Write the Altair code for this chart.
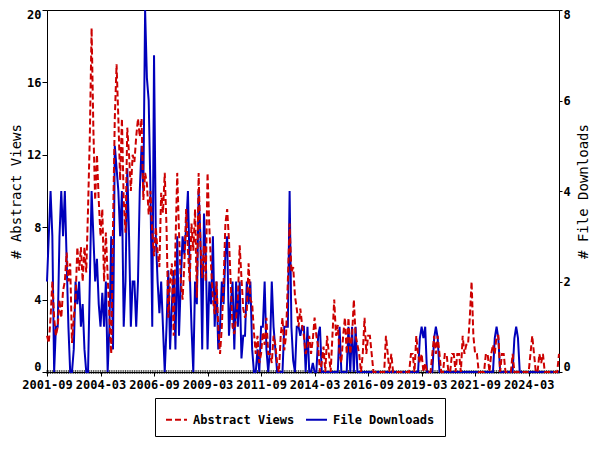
import altair as alt
import pandas as pd

# Monthly series starting 2001-09
views = [
    2, 1.6, 3, 5, 3, 2, 2.5, 4, 3, 4.5, 5, 6.6,
    5, 6, 1.6, 3, 4, 6.9, 5.6, 6.9, 5, 6.9, 5.5, 9,
    13, 19, 13.4, 9.5, 12, 9.5, 7.5, 9, 5, 7.7, 5.3, 3,
    1, 8, 14, 17, 14, 10.6, 14, 9.5, 7.7, 13.5, 12, 10,
    12, 11.6, 13, 14, 13, 14, 9.5, 11, 10.4, 8.7, 10, 7.7,
    6.4, 8, 6.6, 5.8, 9.9, 8.8, 11, 8, 3, 5, 6, 2,
    7, 11, 7.7, 5, 4, 6, 9, 6.7, 5, 8.2, 6.7, 9,
    4.1, 11, 7, 5.2, 7, 5, 11, 8, 5.8, 4, 3.2, 5,
    2.5, 1, 2.5, 5, 8.2, 9, 7.3, 4.9, 2.5, 2.1, 3, 4,
    7, 5.2, 3.5, 3, 3.4, 6, 4, 3.8, 2.2, 1, 2, 0.5,
    1, 2.2, 1.5, 3, 1, 1, 0.5, 2, 1.5, 0.5, 0, 2,
    3, 1.2, 2, 5, 8.2, 5.5, 5.8, 4.2, 3.5, 2.5, 3.5, 2.6,
    2, 1, 1.4, 2, 1, 1.8, 3, 2, 1.4, 0, 0.5, 1.4,
    0, 2, 1, 0, 2, 4, 2, 2.6, 1, 0.5, 2, 3,
    1, 3, 1, 2, 4, 2, 1.5, 1, 0, 1, 3, 1,
    2, 2, 1, 0, 0, 0, 0, 0, 0, 0, 2, 1,
    0, 1, 0, 0, 0, 0, 0, 0, 0, 0, 0, 0,
    1, 1, 0, 2, 1, 0.5, 1, 0, 0.5, 0, 0, 0,
    1, 2, 1, 2, 1, 0, 0, 1, 1, 0, 0, 1,
    1, 0, 1, 1, 0, 2, 1, 1.5, 1.5, 3, 5, 2,
    1, 1, 0, 0, 0, 0, 1, 1, 0, 1, 1.5, 1,
    2, 2, 0, 1, 1, 0, 0, 0, 0, 1, 0, 0,
    0, 0, 0, 0, 0, 0, 0, 1, 2, 1, 0, 0,
    1, 0.5, 1, 0, 0, 0, 0, 0, 0, 0, 0, 1,
]

downloads = [
    2, 3, 4, 3, 0, 1, 1, 3, 4, 3, 4, 2.5,
    1, 0, 0, 0.5, 2, 1.5, 2, 1, 1.5, 0.5, 0, 0,
    2, 4, 3, 2, 2.5, 1.5, 1, 1.75, 1, 2, 0, 1,
    3, 0.5, 5, 4.5, 4, 3, 4, 1, 2, 4.5, 3, 1,
    2, 2, 1, 2, 4, 5, 4, 8, 6.5, 6, 4, 1,
    7, 3, 2, 1.3, 2, 1, 0, 1, 2.25, 0.5, 1.5, 2.25,
    0.5, 3, 0.8, 2, 3, 2.6, 3.2, 4, 2.25, 1, 0, 2,
    1.5, 4, 3, 0.5, 3.5, 2.6, 0.5, 2, 1.5, 3, 1, 2,
    0.5, 1, 2, 1.5, 2.6, 3, 0.8, 1.5, 2, 0.5, 2, 1,
    2, 0.3, 0.8, 0.8, 2, 1.5, 2, 0.5, 0, 0, 0.5, 0,
    1, 1, 2, 0.5, 0, 0.5, 2, 1, 0.5, 0, 0, 0,
    0, 1, 1, 1, 4, 1, 0.25, 0, 1, 1, 0.8, 1,
    1, 0, 1, 0, 0, 0.2, 0, 0, 0.8, 1, 0, 0,
    0, 0, 0, 0, 0, 0, 0, 0, 1, 0, 0, 0,
    0, 1, 0, 1, 0, 1, 0, 0, 0, 0, 0, 0,
    0, 0, 0, 0, 0, 0, 0, 0, 0, 0, 0, 0,
    0, 0, 0, 0, 0, 0, 0, 0, 0, 0, 0, 0,
    0, 0, 0, 0, 0, 0.75, 1, 0.75, 1, 0, 0, 0,
    0, 0.75, 1, 0.75, 0, 0, 0, 0, 0, 0, 0, 0,
    0, 0, 0, 0, 0, 0, 0, 0, 0, 0, 0, 0,
    0, 0, 0, 0, 0, 0, 0, 0, 0, 0, 0, 0.75,
    1, 0.75, 0, 0, 0, 0, 0, 0, 0, 0, 0.75, 1,
    0.75, 0, 0, 0, 0, 0, 0, 0, 0, 0, 0, 0,
    0, 0, 0, 0, 0, 0, 0, 0, 0, 0, 0, 0,
]

tick_labels = ["2001-09", "2004-03", "2006-09", "2009-03", "2011-09",
               "2014-03", "2016-09", "2019-03", "2021-09", "2024-03"]
series_names = ["Abstract Views", "File Downloads"]
left_ticks = [0, 4, 8, 12, 16, 20]
right_ticks = [0, 2, 4, 6, 8]

n = len(views)
months = list(range(n))
month_labels = [f"{2001 + (8 + i) // 12}-{(8 + i) % 12 + 1:02d}" for i in months]
tick_pos = [month_labels.index(t) for t in tick_labels]

df = pd.DataFrame({
    "m": months * 2,
    "label": month_labels * 2,
    "series": [series_names[0]] * n + [series_names[1]] * n,
    "value": views + downloads,
})
ticks_df = pd.DataFrame({"m": months})

label_expr = ("[" + ",".join(f"'{t}'" for t in tick_labels) + "][indexof(["
              + ",".join(str(p) for p in tick_pos) + "], datum.value)]")

x_enc = alt.X("m:Q",
              scale=alt.Scale(domain=[0, n - 1], nice=False, zero=False),
              axis=alt.Axis(values=tick_pos, labelExpr=label_expr, title=None,
                            tickSize=4, labelPadding=3, labelOverlap=False,
                            labelFlush=False))

legend = alt.Legend(title=None, orient="none", legendX=108, legendY=388,
                    direction="horizontal", symbolType="stroke",
                    symbolSize=441, symbolStrokeWidth=2, columnPadding=7,
                    labelOffset=5, padding=10, strokeColor="black",
                    labelFont="DejaVu Sans Mono", labelFontWeight="bold",
                    labelFontSize=12, labelColor="black")

color_enc = alt.Color("series:N",
                      scale=alt.Scale(domain=series_names, range=["#cc0000", "#0000bb"]),
                      legend=legend)
dash_enc = alt.StrokeDash("series:N",
                          scale=alt.Scale(domain=series_names, range=[[6, 3], [1, 0]]),
                          legend=legend)

minor = alt.Chart(ticks_df).mark_tick(orient="vertical", size=4, thickness=1,
                                      color="black").encode(
    x=x_enc, y=alt.value(362))

base = alt.Chart(df).encode(x=x_enc, color=color_enc, strokeDash=dash_enc)

blue = base.transform_filter(alt.datum.series == series_names[1]).mark_line(
    strokeWidth=2).encode(
    y=alt.Y("value:Q", scale=alt.Scale(domain=[0, 8], nice=False),
            axis=alt.Axis(orient="right", values=right_ticks, title="# File Downloads",
                          titleAngle=270, titleBaseline="top", tickSize=3,
                          labelPadding=1, titlePadding=6,
                          labelFlush=True, labelFlushOffset=1)))

red = base.transform_filter(alt.datum.series == series_names[0]).mark_line(
    strokeWidth=2).encode(
    y=alt.Y("value:Q", scale=alt.Scale(domain=[0, 20], nice=False),
            axis=alt.Axis(orient="left", values=left_ticks, title="# Abstract Views",
                          tickSize=5, labelPadding=1, titlePadding=3,
                          labelFlush=True, labelFlushOffset=1)))

chart = alt.layer(minor, blue, red).resolve_scale(y="independent").properties(
    width=512, height=362,
    padding={"left": 39, "top": 2, "right": 33, "bottom": 66},
    autosize=alt.AutoSizeParams(type="none"),
).configure_view(stroke="black", strokeWidth=1).configure_axis(
    grid=False, domainColor="black", tickColor="black",
    labelFont="DejaVu Sans Mono", labelFontWeight="bold", labelFontSize=12,
    labelColor="black", titleFont="DejaVu Sans Mono", titleFontSize=14,
    titleFontWeight="normal", titleColor="black")

chart.save("out.html", embed_options={"renderer": "svg", "actions": False})
